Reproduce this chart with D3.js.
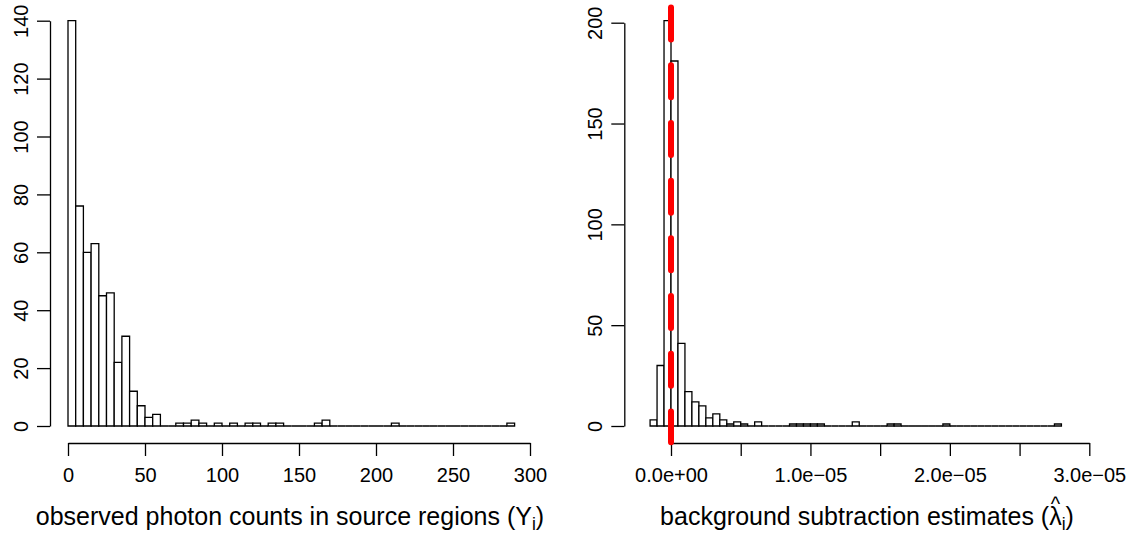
<!DOCTYPE html>
<html>
<head>
<meta charset="utf-8">
<script src="https://cdn.jsdelivr.net/npm/d3@7"></script>
<style>
  body { margin: 0; background: #fff; }
  svg { font-family: "Liberation Sans", Arial, Helvetica, sans-serif; }
</style>
</head>
<body>
<svg></svg>
<script>
// left histogram: photon counts, bins of width 5 starting at 0
var leftBinStart = 0, leftBinWidth = 5;
var leftCounts = [140, 76, 60, 63, 45, 46, 22, 31, 12, 7, 3, 4, 0, 0, 1, 1, 2, 1, 0, 1,
                  0, 1, 0, 1, 1, 0, 1, 1, 0, 0, 0, 0, 1, 2, 0, 0, 0, 0, 0, 0,
                  0, 0, 1, 0, 0, 0, 0, 0, 0, 0, 0, 0, 0, 0, 0, 0, 0, 1];
var leftXTicks = [0, 50, 100, 150, 200, 250, 300];
var leftYTicks = [0, 20, 40, 60, 80, 100, 120, 140];

// right histogram: background subtraction estimates, bins of width 5e-7
var rightBinStart = -1.5e-6, rightBinWidth = 5e-7;
var rightCounts = [3, 30, 201, 181, 41, 17, 12, 10, 4, 6, 3, 1, 2, 1, 0, 2, 0, 0, 0, 0,
                   1, 1, 1, 1, 1, 0, 0, 0, 0, 2, 0, 0, 0, 0, 1, 1, 0, 0, 0, 0,
                   0, 0, 1, 0, 0, 0, 0, 0, 0, 0, 0, 0, 0, 0, 0, 0, 0, 0, 1];
var rightXTicks = [0, 5e-6, 1e-5, 1.5e-5, 2e-5, 2.5e-5, 3e-5];
var rightXLabels = ["0.0e+00", "", "1.0e\u221205", "", "2.0e\u221205", "", "3.0e\u221205"];
var rightYTicks = [0, 50, 100, 150, 200];
var refLine = 0;

var svgWidth = 1142, svgHeight = 541;
var fontSize = 20, labSize = 25;
var xAxisY = 443;

var svg = d3.select("svg")
    .attr("width", svgWidth)
    .attr("height", svgHeight);

function binsOf(counts, start, width) {
    return counts.map(function (c, i) {
        return { x0: start + i * width, x1: start + (i + 1) * width, n: c };
    });
}

function drawHist(bins, xScale, yScale) {
    // paths instead of rects so that empty bins still leave their flat line
    svg.append("g").selectAll("path")
        .data(bins)
        .enter()
        .append("path")
        .attr("d", function (d) {
            var a = xScale(d.x0), b = xScale(d.x1), y0 = yScale(0), y1 = yScale(d.n);
            return "M" + a + "," + y0 + "V" + y1 + "H" + b + "V" + y0 + "Z";
        })
        .attr("fill", "#fff")
        .attr("stroke", "#000")
        .attr("stroke-width", 1.3);
}

function styleAxis(g) {
    g.selectAll("path, line").attr("stroke", "#000").attr("stroke-width", 1.3);
    g.selectAll("text").attr("font-size", fontSize).attr("fill", "#000")
        .attr("font-family", null);
}

function yAxis(yScale, ticks, x) {
    var g = svg.append("g")
        .attr("transform", "translate(" + x + ",0)")
        .call(d3.axisLeft(yScale).tickValues(ticks).tickSize(13).tickSizeOuter(0));
    styleAxis(g);
    g.selectAll("text")
        .attr("x", null)
        .attr("dy", null)
        .attr("text-anchor", "middle")
        .attr("transform", "translate(-22,0) rotate(-90)");
}

function textWidth(str, size) {
    var t = svg.append("text").attr("font-size", size).text(str);
    var w = t.node().getComputedTextLength();
    t.remove();
    return w;
}

// ---------- left panel ----------
var x1 = d3.scaleLinear().domain([0, 300]).range([68, 530]);
var y1 = d3.scaleLinear().domain([0, 140]).range([426, 20.7]);

drawHist(binsOf(leftCounts, leftBinStart, leftBinWidth), x1, y1);

var gx1 = svg.append("g")
    .attr("transform", "translate(0," + xAxisY + ")")
    .call(d3.axisBottom(x1).tickValues(leftXTicks).tickSize(13).tickSizeOuter(0).tickPadding(12));
styleAxis(gx1);

yAxis(y1, leftYTicks, 50);

var t1 = svg.append("text")
    .attr("x", 290)
    .attr("y", 525)
    .attr("text-anchor", "middle")
    .attr("font-size", labSize);
t1.append("tspan").text("observed photon counts in source regions (Y");
t1.append("tspan").attr("font-size", labSize * 0.7).attr("dy", 5).text("i");
t1.append("tspan").attr("dy", -5).text(")");

// ---------- right panel ----------
var x2 = d3.scaleLinear().domain([0, 3e-5]).range([671, 1089.3]);
var y2 = d3.scaleLinear().domain([0, 200]).range([426, 22.7]);

drawHist(binsOf(rightCounts, rightBinStart, rightBinWidth), x2, y2);

var gx2 = svg.append("g")
    .attr("transform", "translate(0," + xAxisY + ")")
    .call(d3.axisBottom(x2).tickValues(rightXTicks).tickSize(13).tickSizeOuter(0).tickPadding(12)
        .tickFormat(function (d, i) { return rightXLabels[i]; }));
styleAxis(gx2);

yAxis(y2, rightYTicks, 624.3);

// red dashed reference line at zero, spanning the plot region (top to bottom)
svg.append("line")
    .attr("x1", x2(refLine))
    .attr("x2", x2(refLine))
    .attr("y1", y2(209))
    .attr("y2", y2(-8))
    .attr("stroke", "#f00")
    .attr("stroke-width", 6)
    .attr("stroke-linecap", "round")
    .attr("stroke-dasharray", "32,25.7")
    .attr("stroke-dashoffset", -3);

// lambda with a hat: the caret is a tspan moved back over the lambda
var hatSize = labSize * 0.8;
var lw = textWidth("\u03bb", labSize);
var cw = textWidth("^", hatSize);

var t2 = svg.append("text")
    .attr("x", 867)
    .attr("y", 525)
    .attr("text-anchor", "middle")
    .attr("font-size", labSize);
t2.append("tspan").text("background subtraction estimates (\u03bb");
t2.append("tspan").attr("font-size", hatSize).attr("dx", -(lw + cw) / 2).attr("dy", -14).text("^");
t2.append("tspan").attr("font-size", labSize * 0.7).attr("dx", (lw - cw) / 2).attr("dy", 19).text("i");
t2.append("tspan").attr("dy", -5).text(")");
</script>
</body>
</html>
